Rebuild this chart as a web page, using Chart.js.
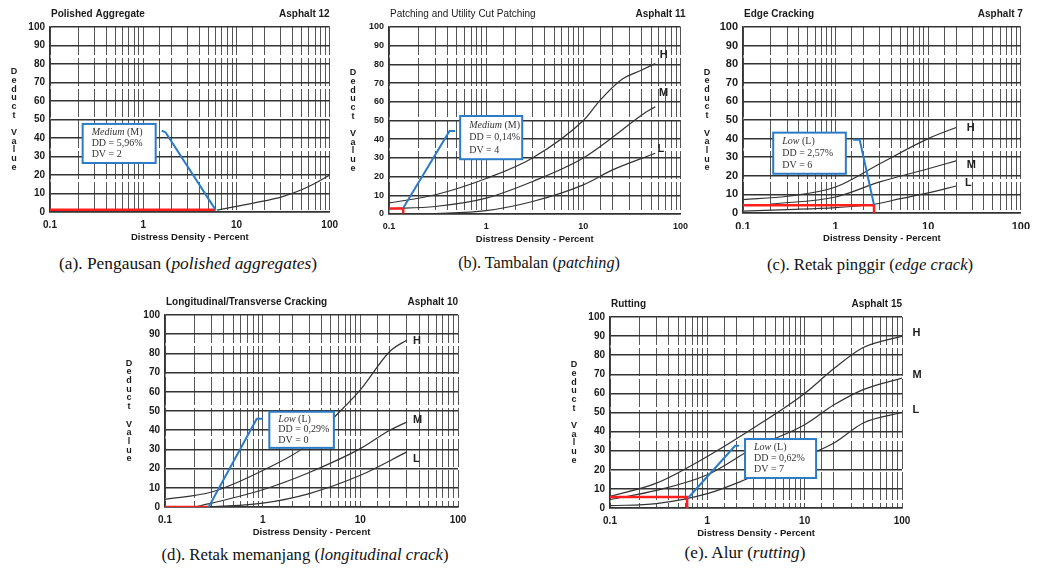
<!DOCTYPE html>
<html>
<head>
<meta charset="utf-8">
<script src="https://cdn.jsdelivr.net/npm/chart.js@4"></script>
<style>
body{margin:0;background:#fff;width:1037px;height:569px;position:relative;overflow:hidden}
.frame{position:absolute}
.cap{position:absolute;font-family:"Liberation Serif","Times New Roman",serif;font-size:17px;color:#111;white-space:nowrap;transform:translate(-50%,-50%)}
</style>
</head>
<body>
<div class="frame" style="left:0;top:0;width:345px;height:248px"><canvas id="chartA"></canvas></div>
<div class="frame" style="left:345px;top:0;width:350px;height:248px"><canvas id="chartB"></canvas></div>
<div class="frame" style="left:695px;top:0;width:342px;height:248px"><canvas id="chartC"></canvas></div>
<div class="frame" style="left:100px;top:280px;width:400px;height:262px"><canvas id="chartD"></canvas></div>
<div class="frame" style="left:545px;top:280px;width:400px;height:262px"><canvas id="chartE"></canvas></div>

<div class="cap" style="left:188px;top:263px;font-size:17.4px">(a). Pengausan (<i>polished aggregates</i>)</div>
<div class="cap" style="left:539px;top:263px;font-size:16.2px">(b). Tambalan (<i>patching</i>)</div>
<div class="cap" style="left:870px;top:265px;font-size:16.7px">(c). Retak pinggir (<i>edge crack</i>)</div>
<div class="cap" style="left:305px;top:555px;font-size:16.7px">(d). Retak memanjang (<i>longitudinal crack</i>)</div>
<div class="cap" style="left:745px;top:553px;font-size:17.2px">(e). Alur (<i>rutting</i>)</div>

<script>
// axis values
var densityLabels = [0.1, 1, 10, 100];
var severity = ['H', 'M', 'L'];

// (a) polished aggregate
var aggDD = [6.2, 10, 20, 30, 50, 70, 100];
var aggDV = [1, 3, 6, 8, 12, 15.5, 20];
var aggRedDD = [0.1, 5.96];
var aggRedDV = [1.2, 1.2];
var aggLeadDD = [1.58, 1.74, 6.0];
var aggLeadDV = [44, 43, 1];
var aggNote = ['Medium', ' (M)', 'DD = 5,96%', 'DV = 2'];

// (b) patching
var patchDD_H = [0.1, 0.3, 1, 3, 10, 15, 25, 40, 55];
var patchDV_H = [5.9, 10.3, 19, 30, 50, 61, 72, 77, 80.5];
var patchDD_M = [0.1, 0.3, 1, 3, 10, 20, 40, 55];
var patchDV_M = [2.8, 4, 8.5, 17.4, 30, 41, 53, 57.4];
var patchDD_L = [0.25, 1, 3, 10, 20, 55];
var patchDV_L = [0, 1.8, 6.7, 15.6, 23.6, 32.5];
var patchRedDD = [0.1, 0.14, 0.14];
var patchRedDV = [3, 3, 0.3];
var patchLeadDD = [0.48, 0.42, 0.14];
var patchLeadDV = [44.4, 44.4, 3.2];
var patchTagDD = [61, 60, 58];
var patchTagDV = [85, 64.5, 35];
var patchNote = ['Medium', ' (M)', 'DD = 0,14%', 'DV = 4'];

// (c) edge cracking
var edgeDD_H = [0.1, 0.3, 1, 3, 10, 20];
var edgeDV_H = [7.2, 9, 14, 26.5, 40, 46];
var edgeDD_M = [0.2, 1, 3, 10, 20];
var edgeDV_M = [4.8, 8.6, 16.7, 23.8, 28];
var edgeDD_L = [0.1, 0.3, 1, 2.6, 5, 10, 20];
var edgeDV_L = [1, 1.8, 2.9, 4.7, 7.7, 10.8, 14.5];
var edgeRedDD = [0.1, 2.6, 2.6];
var edgeRedDV = [4.1, 4.1, 0];
var edgeLeadDD = [1.55, 1.82, 2.6];
var edgeLeadDV = [39.4, 39.4, 4.3];
var edgeTagDD = [26, 26, 25];
var edgeTagDV = [45.7, 25.6, 16];
var edgeNote = ['Low', ' (L)', 'DD = 2,57%', 'DV = 6'];

// (d) longitudinal / transverse cracking
var longDD_H = [0.1, 0.3, 1, 3, 5, 10, 20, 30];
var longDV_H = [4, 7.8, 19, 33, 45, 61, 81, 87];
var longDD_M = [0.2, 0.3, 1, 3, 10, 20, 30];
var longDV_M = [0, 2, 9, 18, 30.4, 40, 44.3];
var longDD_L = [0.3, 1, 3, 10, 30];
var longDV_L = [0, 2, 7, 16.5, 28.7];
var longRedDD = [0.1, 0.28];
var longRedDV = [0, 0];
var longLeadDD = [1.0, 0.87, 0.28];
var longLeadDV = [46, 46, 0];
var longTagDD = [34.7, 34.7, 34.7];
var longTagDV = [86.4, 45.2, 24.9];
var longNote = ['Low', ' (L)', 'DD = 0,29%', 'DV = 0'];

// (e) rutting
var rutDD = [0.1, 0.3, 1, 3, 10, 20, 40, 100];
var rutDV_H = [6.1, 13, 27, 42, 60, 73, 84, 90];
var rutDV_M = [4.4, 9.2, 17.4, 31.4, 43.6, 54, 62, 68];
var rutDV_L = [1.2, 2.3, 7.5, 16.6, 27, 34, 44.5, 50];
var rutRedDD = [0.1, 0.62, 0.62];
var rutRedDV = [5.8, 5.8, 0];
var rutLeadDD = [2.12, 1.93, 0.64];
var rutLeadDV = [32.6, 32.6, 5.5];
var rutTagDD = [128, 128, 128];
var rutTagDV = [91.6, 69.8, 51.1];
var rutNote = ['Low', ' (L)', 'DD = 0,62%', 'DV = 7'];

function pts(xs, ys) {
    return xs.map(function (v, i) { return {x: v, y: ys[i]}; });
}

var SANS = '"Liberation Sans", Arial, sans-serif';
var SERIF = '"Liberation Serif", "Times New Roman", serif';

var decor = {
    id: 'decor',
    afterDatasetsDraw: function (chart) {
        var o = chart.options.plugins.decor;
        var ctx = chart.ctx, x = chart.scales.x, y = chart.scales.y;
        ctx.save();
        // severity tags
        ctx.font = 'bold 11px ' + SANS;
        ctx.fillStyle = '#222';
        ctx.textAlign = 'left';
        ctx.textBaseline = 'middle';
        (o.tagDD || []).forEach(function (d, i) {
            ctx.fillText(severity[i], x.getPixelForValue(d), y.getPixelForValue(o.tagDV[i]));
        });
        // note box
        var x1 = x.getPixelForValue(o.box[0]), x2 = x.getPixelForValue(o.box[1]);
        var y1 = y.getPixelForValue(o.box[3]), y2 = y.getPixelForValue(o.box[2]);
        ctx.fillStyle = '#fff';
        ctx.fillRect(x1, y1, x2 - x1, y2 - y1);
        ctx.strokeStyle = '#2b7bc6';
        ctx.lineWidth = 2;
        ctx.strokeRect(x1, y1, x2 - x1, y2 - y1);
        var h = y2 - y1, tx = x1 + 9;
        ctx.fillStyle = '#333';
        ctx.font = 'italic 10px ' + SERIF;
        ctx.fillText(o.note[0], tx, y1 + h * 0.21);
        var w = ctx.measureText(o.note[0]).width;
        ctx.font = '10px ' + SERIF;
        ctx.fillText(o.note[1], tx + w, y1 + h * 0.21);
        ctx.fillText(o.note[2], tx, y1 + h * 0.5);
        ctx.fillText(o.note[3], tx, y1 + h * 0.79);
        ctx.restore();
    },
    afterDraw: function (chart) {
        var o = chart.options.plugins.decor;
        var ctx = chart.ctx, ca = chart.chartArea;
        ctx.save();
        ctx.fillStyle = '#1a1a1a';
        ctx.textBaseline = 'middle';
        ctx.font = (o.titleWeight || 'bold') + ' 10px ' + SANS;
        ctx.textAlign = 'left';
        ctx.fillText(o.title, ca.left + 1, ca.top - 12.5);
        ctx.font = 'bold 10px ' + SANS;
        ctx.textAlign = 'right';
        ctx.fillText(o.code, ca.right + (o.codeShift || 0), ca.top - 12.5);
        // x title
        ctx.textAlign = 'center';
        ctx.font = 'bold 9.5px ' + SANS;
        ctx.fillText('Distress Density - Percent', (ca.left + ca.right) / 2, ca.bottom + 25);
        // stacked y title
        var letters = 'Deduct Value'.split('');
        var step = 8.7, cy = (ca.top + ca.bottom) / 2 - step * (letters.length - 1) / 2;
        ctx.font = 'bold 9px ' + SANS;
        letters.forEach(function (ch, i) {
            ctx.fillText(ch, ca.left - 36, cy + i * step);
        });
        ctx.restore();
    }
};

function buildChart(id, frame, plot, curves, red, lead, deco, tickSize) {
    var yW = 30, xH = 16;
    var ds = [
        {data: lead, borderColor: '#2b7bc6', borderWidth: 2, tension: 0},
        {data: red, borderColor: '#ff1f1f', borderWidth: 2.5, tension: 0}
    ];
    curves.forEach(function (c) {
        ds.push({data: c, borderColor: '#333', borderWidth: 1.2, cubicInterpolationMode: 'monotone'});
    });
    var tickFont = {family: SANS, size: tickSize || 10, weight: 'bold'};
    return new Chart(document.getElementById(id).getContext('2d'), {
        type: 'line',
        data: {datasets: ds},
        options: {
            responsive: true,
            maintainAspectRatio: false,
            animation: false,
            elements: {point: {radius: 0}},
            layout: {
                padding: {
                    left: plot[0] - frame[0] - yW,
                    top: plot[1] - frame[1],
                    right: frame[0] + frame[2] - plot[2],
                    bottom: frame[1] + frame[3] - plot[3] - xH
                }
            },
            plugins: {legend: {display: false}, tooltip: {enabled: false}, decor: deco},
            scales: {
                x: {
                    type: 'logarithmic', min: 0.1, max: 100,
                    afterFit: function (s) { s.height = xH; },
                    grid: {color: '#555', lineWidth: 1, drawTicks: false},
                    border: {color: '#333', width: 1.5, dash: [28, 3]},
                    ticks: {
                        autoSkip: false, maxRotation: 0, minRotation: 0, padding: 7,
                        color: '#1a1a1a', font: tickFont,
                        callback: function (v) {
                            return densityLabels.indexOf(Number(v.toPrecision(6))) >= 0 ? String(Number(v.toPrecision(6))) : '';
                        }
                    }
                },
                y: {
                    min: 0, max: 100,
                    afterFit: function (s) { s.width = yW; },
                    grid: {color: '#333', lineWidth: 1.5, drawTicks: false},
                    border: {color: '#333', width: 1.5},
                    ticks: {stepSize: 10, padding: 5, color: '#1a1a1a', font: tickFont}
                }
            }
        },
        plugins: [decor]
    });
}

buildChart('chartA', [0, 0, 345, 248], [50, 27, 333, 212],
    [pts(aggDD, aggDV)],
    pts(aggRedDD, aggRedDV), pts(aggLeadDD, aggLeadDV),
    {title: 'Polished Aggregate', code: 'Asphalt 12', note: aggNote, box: [0.224, 1.36, 26.5, 47.6]});

buildChart('chartB', [345, 0, 350, 248], [389, 27, 684, 214],
    [pts(patchDD_H, patchDV_H), pts(patchDD_M, patchDV_M), pts(patchDD_L, patchDV_L)],
    pts(patchRedDD, patchRedDV), pts(patchLeadDD, patchLeadDV),
    {title: 'Patching and Utility Cut Patching', titleWeight: 'normal', code: 'Asphalt 11', codeShift: 5,
     note: patchNote, box: [0.54, 2.35, 29.3, 52.4], tagDD: patchTagDD, tagDV: patchTagDV}, 9);

buildChart('chartC', [695, 0, 342, 248], [743, 27, 1025, 213],
    [pts(edgeDD_H, edgeDV_H), pts(edgeDD_M, edgeDV_M), pts(edgeDD_L, edgeDV_L)],
    pts(edgeRedDD, edgeRedDV), pts(edgeLeadDD, edgeLeadDV),
    {title: 'Edge Cracking', code: 'Asphalt 7', codeShift: 2,
     note: edgeNote, box: [0.212, 1.29, 21.1, 43.2], tagDD: edgeTagDD, tagDV: edgeTagDV}, 11);

buildChart('chartD', [100, 280, 400, 262], [165, 315, 458, 507],
    [pts(longDD_H, longDV_H), pts(longDD_M, longDV_M), pts(longDD_L, longDV_L)],
    pts(longRedDD, longRedDV), pts(longLeadDD, longLeadDV),
    {title: 'Longitudinal/Transverse Cracking', code: 'Asphalt 10',
     note: longNote, box: [1.17, 5.36, 30.8, 49.6], tagDD: longTagDD, tagDV: longTagDV});

buildChart('chartE', [545, 280, 400, 262], [610, 317, 902, 508],
    [pts(rutDD, rutDV_H), pts(rutDD, rutDV_M), pts(rutDD, rutDV_L)],
    pts(rutRedDD, rutRedDV), pts(rutLeadDD, rutLeadDV),
    {title: 'Rutting', code: 'Asphalt 15',
     note: rutNote, box: [2.44, 13.1, 15.7, 36.1], tagDD: rutTagDD, tagDV: rutTagDV});
</script>
</body>
</html>
